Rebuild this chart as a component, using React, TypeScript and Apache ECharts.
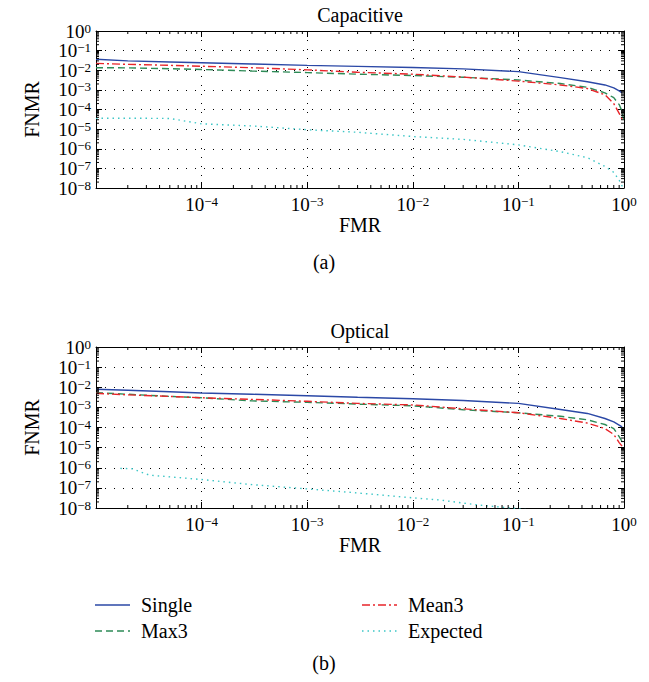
import React, { useEffect, useRef } from 'react';
import * as echarts from 'echarts';

// ---------------- data ----------------
const FMR = [1e-5, 2e-5, 5e-5, 1e-4, 3e-4, 1e-3, 3e-3, 1e-2, 3e-2, 0.1, 0.25, 0.45, 0.66, 0.8, 0.9, 0.96, 0.99];

// Capacitive
const capSingle = [3.63e-2, 3.02e-2, 2.63e-2, 2.4e-2, 2.09e-2, 1.78e-2, 1.58e-2, 1.38e-2, 1.17e-2, 8.5e-3, 4.2e-3, 2.6e-3, 1.78e-3, 1.26e-3, 8.9e-4, 7.1e-4];
const capMean3 = [2.24e-2, 2.0e-2, 1.78e-2, 1.6e-2, 1.35e-2, 1.05e-2, 7.9e-3, 6.3e-3, 4.5e-3, 2.8e-3, 1.78e-3, 1.17e-3, 5.6e-4, 2.0e-4, 6.3e-5, 3.2e-5];
const capMax3 = [1.35e-2, 1.32e-2, 1.2e-2, 1.1e-2, 9.1e-3, 7.6e-3, 6.3e-3, 5.4e-3, 4.4e-3, 3.2e-3, 2.1e-3, 1.35e-3, 7.1e-4, 4.0e-4, 1.78e-4, 7.9e-5, 3.2e-5];
const capExpected = [3.6e-5, 3.6e-5, 3.5e-5, 1.86e-5, 1.45e-5, 9.3e-6, 6.9e-6, 4.2e-6, 3.0e-6, 1.58e-6, 7.1e-7, 3.5e-7, 1.26e-7, 6.3e-8, 2.5e-8, 1.26e-8, 7.9e-9];

// Optical
const optSingle = [7.9e-3, 7.1e-3, 6.0e-3, 5.2e-3, 4.5e-3, 3.8e-3, 3.16e-3, 2.7e-3, 2.2e-3, 1.58e-3, 7.9e-4, 5.0e-4, 2.8e-4, 1.9e-4, 1.32e-4, 1.07e-4];
const optMean3 = [5.0e-3, 4.2e-3, 3.5e-3, 3.0e-3, 2.5e-3, 2.0e-3, 1.58e-3, 1.32e-3, 8.5e-4, 5.4e-4, 2.8e-4, 1.66e-4, 8.9e-5, 4.5e-5, 1.78e-5, 1.17e-5, 1.12e-5];
const optMax3 = [5.4e-3, 4.5e-3, 3.5e-3, 3.0e-3, 2.1e-3, 1.78e-3, 1.45e-3, 1.2e-3, 7.6e-4, 5.4e-4, 3.6e-4, 2.4e-4, 1.41e-4, 8.9e-5, 3.5e-5, 2.0e-5, 1.48e-5];
const optExpectedFMR = [1.7e-5, 2.2e-5, 3.2e-5, 1e-4, 3e-4, 1e-3, 3e-3, 1e-2, 1.8e-2, 4.3e-2, 0.1, 0.18];
const optExpected = [9.3e-7, 8.9e-7, 4.3e-7, 2.6e-7, 1.45e-7, 8.9e-8, 5.6e-8, 3.2e-8, 2.5e-8, 1.38e-8, 9.3e-9, 6.3e-9];

const SERIES_NAMES = ['Single', 'Max3', 'Mean3', 'Expected'];
const PANEL_TITLES = ['Capacitive', 'Optical'];
const PANEL_CAPTIONS = ['(a)', '(b)'];
const X_MIN = 1e-5;
const X_MAX = 1;
const Y_MIN = 1e-8;
const Y_MAX = 1;
const X_DECADES = [-5, -4, -3, -2, -1];
const Y_DECADES = [-8, -7, -6, -5, -4, -3, -2, -1];
const MINOR_MULT = [2, 3, 4, 5, 6, 7, 8, 9];

// ---------------- styles ----------------
const FONT = "'Liberation Serif', 'Times New Roman', 'DejaVu Serif', serif";
const COLORS: Record<string, string> = {
  Single: '#2b48a6',
  Max3: '#2e8b57',
  Mean3: '#e8252a',
  Expected: '#3cc6c6',
};
const DASH: Record<string, any> = {
  Single: 'solid',
  Max3: [7, 4],
  Mean3: [8, 3, 2, 3],
  Expected: [1.5, 4],
};
const GRIDS = [
  { left: 96, top: 31, width: 528, height: 157 },
  { left: 96, top: 347, width: 528, height: 161 },
];
const LEGEND_POS = [
  { name: 'Single', x: 95, y: 605 },
  { name: 'Max3', x: 95, y: 631 },
  { name: 'Mean3', x: 362, y: 605 },
  { name: 'Expected', x: 362, y: 631 },
];

const zip = (xs: number[], ys: number[]) => ys.map((y, i) => [xs[i], y]);

const powLabel = (v: number) => {
  const e = Math.round(Math.log10(v));
  const s = e < 0 ? '\u2212' + -e : String(e);
  return `{b|10}{s|${s}}`;
};

const RICH = {
  b: { fontSize: 19, lineHeight: 19, verticalAlign: 'bottom', fontFamily: FONT, color: '#000' },
  s: { fontSize: 13, lineHeight: 9, verticalAlign: 'top', fontFamily: FONT, color: '#000' },
};

const minorData = () => {
  const d: number[][] = [];
  X_DECADES.forEach((e) => MINOR_MULT.forEach((m) => d.push([m * Math.pow(10, e), 1e-2, 0])));
  Y_DECADES.forEach((e) => MINOR_MULT.forEach((m) => d.push([1e-2, m * Math.pow(10, e), 1])));
  return d;
};

export default function App() {
  const ref = useRef<HTMLDivElement>(null);

  useEffect(() => {
    document.body.style.margin = '0';
    if (!ref.current) return;
    const chart = echarts.init(ref.current, undefined, { renderer: 'svg' });

    const xAxis: any[] = [];
    const yAxis: any[] = [];
    const series: any[] = [];
    const graphic: any[] = [];

    const panels = [
      { Single: zip(FMR, capSingle), Max3: zip(FMR, capMax3), Mean3: zip(FMR, capMean3), Expected: zip(FMR, capExpected) },
      { Single: zip(FMR, optSingle), Max3: zip(FMR, optMax3), Mean3: zip(FMR, optMean3), Expected: zip(optExpectedFMR, optExpected) },
    ];

    GRIDS.forEach((g, i) => {
      const axisLine = { show: true, onZero: false, lineStyle: { color: '#000', width: 1 } };
      const tick = { show: true, inside: true, length: 6, lineStyle: { color: '#000', width: 1 } };
      const split = { show: true, lineStyle: { color: '#000', width: 1, type: [1, 8] } };
      xAxis.push({
        gridIndex: i, type: 'log', logBase: 10, min: X_MIN, max: X_MAX, position: 'bottom',
        axisLine, axisTick: tick, splitLine: split,
        axisLabel: {
          margin: 7, interval: 0, showMinLabel: true, showMaxLabel: true,
          formatter: (v: number) => (Math.round(Math.log10(v)) === -5 ? '' : powLabel(v)), rich: RICH,
        },
        name: 'FMR', nameLocation: 'middle', nameGap: 27,
        nameTextStyle: { fontSize: 20, lineHeight: 20, fontFamily: FONT, color: '#000' },
      });
      xAxis.push({
        gridIndex: i, type: 'log', logBase: 10, min: X_MIN, max: X_MAX, position: 'top',
        axisLine, axisTick: tick, splitLine: { show: false }, axisLabel: { show: false },
      });
      yAxis.push({
        gridIndex: i, type: 'log', logBase: 10, min: Y_MIN, max: Y_MAX, position: 'left',
        axisLine, axisTick: tick, splitLine: split,
        axisLabel: { margin: 5, interval: 0, showMinLabel: true, showMaxLabel: true, formatter: powLabel, rich: RICH },
        name: 'FNMR', nameLocation: 'middle', nameGap: 54, nameRotate: 90,
        nameTextStyle: { fontSize: 20, lineHeight: 20, fontFamily: FONT, color: '#000' },
      });
      yAxis.push({
        gridIndex: i, type: 'log', logBase: 10, min: Y_MIN, max: Y_MAX, position: 'right',
        axisLine, axisTick: tick, splitLine: { show: false }, axisLabel: { show: false },
      });

      const p: any = panels[i];
      SERIES_NAMES.forEach((name) => {
        series.push({
          name, type: 'line', xAxisIndex: 2 * i, yAxisIndex: 2 * i,
          data: p[name], symbol: 'none', showSymbol: false, clip: true,
          lineStyle: { color: COLORS[name], width: 1.4, type: DASH[name] },
          itemStyle: { color: COLORS[name] },
          z: 3,
        });
      });

      series.push({
        type: 'custom', xAxisIndex: 2 * i, yAxisIndex: 2 * i, silent: true, z: 4,
        data: minorData(),
        renderItem: (params: any, api: any) => {
          const a = api.value(0);
          const b = api.value(1);
          const kind = api.value(2);
          const L = 3;
          const st = { stroke: '#000', lineWidth: 1 };
          if (kind === 0) {
            const pb = api.coord([a, Y_MIN]);
            const pt = api.coord([a, Y_MAX]);
            return {
              type: 'group',
              children: [
                { type: 'line', shape: { x1: pb[0], y1: pb[1], x2: pb[0], y2: pb[1] - L }, style: st },
                { type: 'line', shape: { x1: pt[0], y1: pt[1], x2: pt[0], y2: pt[1] + L }, style: st },
              ],
            };
          }
          const pl = api.coord([X_MIN, b]);
          const pr = api.coord([X_MAX, b]);
          return {
            type: 'group',
            children: [
              { type: 'line', shape: { x1: pl[0], y1: pl[1], x2: pl[0] + L, y2: pl[1] }, style: st },
              { type: 'line', shape: { x1: pr[0], y1: pr[1], x2: pr[0] - L, y2: pr[1] }, style: st },
            ],
          };
        },
      });

      graphic.push({
        type: 'text', x: g.left + g.width / 2, y: g.top - 16,
        style: { text: PANEL_TITLES[i], fill: '#000', font: `20px ${FONT}`, textAlign: 'center', textVerticalAlign: 'middle', verticalAlign: 'middle' },
      });
    });

    graphic.push({
      type: 'text', x: 324, y: 262,
      style: { text: PANEL_CAPTIONS[0], fill: '#000', font: `20px ${FONT}`, textAlign: 'center', textVerticalAlign: 'middle', verticalAlign: 'middle' },
    });
    graphic.push({
      type: 'text', x: 324, y: 663,
      style: { text: PANEL_CAPTIONS[1], fill: '#000', font: `20px ${FONT}`, textAlign: 'center', textVerticalAlign: 'middle', verticalAlign: 'middle' },
    });

    LEGEND_POS.forEach((l) => {
      const dash = DASH[l.name];
      graphic.push({
        type: 'line',
        shape: { x1: l.x, y1: l.y, x2: l.x + 35, y2: l.y },
        style: { stroke: COLORS[l.name], lineWidth: 1.4, lineDash: Array.isArray(dash) ? dash : null },
      });
      graphic.push({
        type: 'text', x: l.x + 46, y: l.y,
        style: { text: l.name, fill: '#000', font: `20px ${FONT}`, textAlign: 'left', textVerticalAlign: 'middle', verticalAlign: 'middle' },
      });
    });

    chart.setOption({
      animation: false,
      backgroundColor: '#fff',
      grid: GRIDS.map((g) => ({ ...g, containLabel: false })),
      xAxis, yAxis, series, graphic,
    });

    return () => chart.dispose();
  }, []);

  return <div ref={ref} style={{ width: 649, height: 682 }} />;
}
